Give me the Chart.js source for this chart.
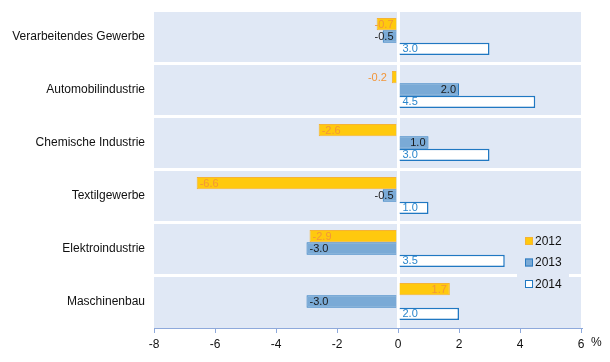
<!DOCTYPE html>
<html>
<head>
<meta charset="utf-8">
<script src="https://cdn.jsdelivr.net/npm/chart.js@4/dist/chart.umd.min.js"></script>
<style>
  html, body { margin: 0; padding: 0; background: #fff; }
  #wrap { width: 610px; height: 362px; }
</style>
</head>
<body>
<div id="wrap"><canvas id="chart" width="610" height="362"></canvas></div>
<script>
// ---- data ----
const categories = ['Verarbeitendes Gewerbe', 'Automobilindustrie', 'Chemische Industrie',
    'Textilgewerbe', 'Elektroindustrie', 'Maschinenbau'];
const years = ['2012', '2013', '2014'];
const values2012 = [-0.7, -0.2, -2.6, -6.6, -2.9, 1.7];
const values2013 = [-0.5, 2.0, 1.0, -0.5, -3.0, -3.0];
const values2014 = [3.0, 4.5, 3.0, 1.0, 3.5, 2.0];
const xTicks = [-8, -6, -4, -2, 0, 2, 4, 6];
const unitLabel = '%';

const PLOT_BG = '#E0E8F5';
const AXIS_BLUE = '#8EA9DB';
const FONT = 'Arial, "Liberation Sans", sans-serif';

// label styles per dataset: where the value text goes
const labelStyles = [
    { color: '#F2963A', place: 'end', overflow: 'outside' },
    { color: '#1a1a1a', place: 'end', overflow: 'clamp' },
    { color: '#2B86CC', place: 'start', overflow: 'clamp' }
];

// plot background
const plotBackground = {
    id: 'plotBackground',
    beforeDraw(chart) {
        const { ctx, chartArea: a } = chart;
        ctx.save();
        ctx.fillStyle = PLOT_BG;
        ctx.fillRect(a.left, a.top, a.right - a.left, a.bottom - a.top);
        ctx.restore();
    }
};

// value labels on bars
const barLabels = {
    id: 'barLabels',
    afterDatasetsDraw(chart) {
        const ctx = chart.ctx;
        ctx.save();
        ctx.font = '11px ' + FONT;
        ctx.textBaseline = 'middle';
        const pad = 3;
        chart.data.datasets.forEach((ds, di) => {
            const st = labelStyles[di];
            const meta = chart.getDatasetMeta(di);
            meta.data.forEach((bar, i) => {
                const v = ds.data[i];
                const txt = v.toFixed(1);
                const w = ctx.measureText(txt).width;
                const lo = Math.min(bar.x, bar.base);
                const hi = Math.max(bar.x, bar.base);
                const bw = hi - lo;
                let x;
                if (st.place === 'start') {
                    x = v >= 0 ? bar.base + pad : bar.base - pad - w;
                } else if (w > bw && st.overflow === 'outside') {
                    x = v >= 0 ? hi + 5 : lo - 5 - w;
                } else if (v >= 0) {
                    x = Math.max(hi - pad - w, bar.base + pad);
                } else {
                    x = Math.min(lo + pad, bar.base - pad - w);
                }
                ctx.fillStyle = st.color;
                ctx.textAlign = 'left';
                ctx.fillText(txt, x, bar.y + 0.5);
            });
        });
        ctx.restore();
    }
};

// legend inside plot + unit label
const extras = {
    id: 'extras',
    afterDraw(chart) {
        const { ctx, chartArea: a } = chart;
        ctx.save();
        const bx = a.right - 64, by = a.bottom - 98;
        ctx.fillStyle = PLOT_BG;
        ctx.fillRect(bx, by, 52, 68);
        ctx.font = '12px ' + FONT;
        ctx.textBaseline = 'middle';
        ctx.textAlign = 'left';
        chart.data.datasets.forEach((ds, i) => {
            const cy = by + 11 + i * 21.5;
            ctx.fillStyle = ds.backgroundColor;
            ctx.fillRect(bx + 8, cy - 4, 8, 8);
            ctx.strokeStyle = ds.borderColor;
            ctx.lineWidth = 1;
            ctx.strokeRect(bx + 8.5, cy - 3.5, 7, 7);
            ctx.fillStyle = '#111';
            ctx.fillText(ds.label, bx + 18, cy + 0.5);
        });
        ctx.fillText(unitLabel, a.right + 10, a.bottom + 15);
        ctx.restore();
    }
};

const ctx = document.getElementById('chart').getContext('2d');
new Chart(ctx, {
    type: 'bar',
    data: {
        labels: categories,
        datasets: [
            { label: years[0], data: values2012, backgroundColor: '#FFC90E', borderColor: '#F5B335', borderWidth: 1 },
            { label: years[1], data: values2013, backgroundColor: '#7AAAD6', borderColor: '#2C7BC0', borderWidth: 1 },
            { label: years[2], data: values2014, backgroundColor: '#FFFFFF', borderColor: '#2078C2', borderWidth: 1.5 }
        ]
    },
    options: {
        indexAxis: 'y',
        responsive: false,
        animation: false,
        categoryPercentage: 0.7,
        barPercentage: 1.0,
        layout: { padding: { top: 10, right: 29, left: 0, bottom: 0 } },
        plugins: {
            legend: { display: false },
            tooltip: { enabled: false }
        },
        scales: {
            x: {
                min: xTicks[0],
                max: xTicks[xTicks.length - 1],
                afterBuildTicks(scale) {
                    scale.ticks = xTicks.map(v => ({ value: v }));
                },
                afterFit(scale) { scale.height = 34; },
                border: { display: true, color: AXIS_BLUE, width: 1 },
                grid: {
                    color: c => (c.tick && c.tick.value === 0 ? '#FFFFFF' : 'rgba(0,0,0,0)'),
                    lineWidth: 3,
                    drawTicks: true,
                    tickLength: 5,
                    tickColor: AXIS_BLUE,
                    tickWidth: 1
                },
                ticks: {
                    color: '#111',
                    font: { size: 12, family: FONT },
                    padding: 4,
                    maxRotation: 0
                }
            },
            y: {
                afterFit(scale) {
                    scale.width = 154;
                    scale.paddingTop = 0;
                    scale.paddingBottom = 0;
                },
                border: { display: false },
                grid: {
                    offset: true,
                    color: c => (c.tick ? '#FFFFFF' : 'rgba(0,0,0,0)'),
                    lineWidth: 3,
                    drawTicks: false
                },
                ticks: {
                    color: '#111',
                    font: { size: 12, family: FONT },
                    padding: 9
                }
            }
        }
    },
    plugins: [plotBackground, barLabels, extras]
});
</script>
</body>
</html>
